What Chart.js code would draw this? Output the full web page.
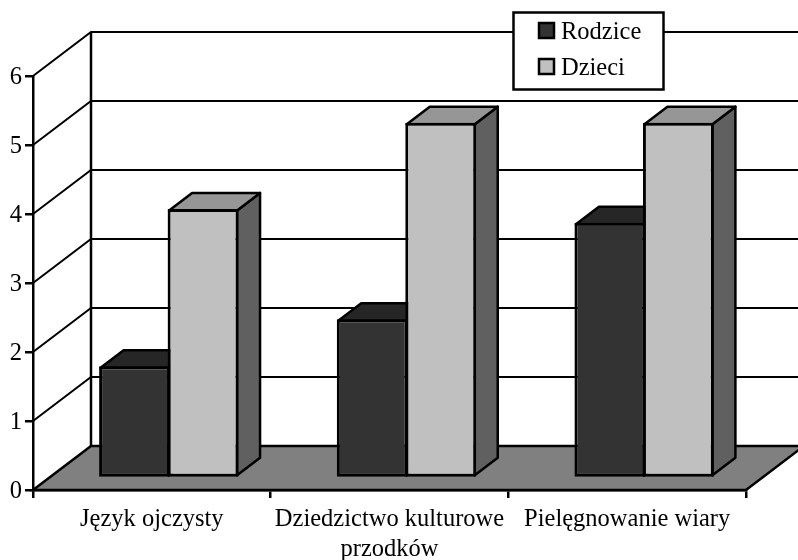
<!DOCTYPE html>
<html>
<head>
<meta charset="utf-8">
<style>
  html, body { margin: 0; padding: 0; background: #fff; }
  canvas { display: block; }
</style>
<script src="https://cdn.jsdelivr.net/npm/chart.js@4/dist/chart.umd.min.js"></script>
</head>
<body>
<canvas id="chart" width="798" height="560"></canvas>
<script>
const categories = ["Język ojczysty", ["Dziedzictwo kulturowe", "przodków"], "Pielęgnowanie wiary"];
const seriesNames = ["Rodzice", "Dzieci"];
const rodzice = [1.62, 2.3, 3.7];
const dzieci = [3.9, 5.15, 5.15];
const yTicks = [0, 1, 2, 3, 4, 5, 6];

const FONT = '"Liberation Serif", "Times New Roman", serif';

// depth of the fake 3D box: walls, and where bars stand on the floor
const WALL_DX = 58, WALL_DY = -44;
const BAR_DX = 17, BAR_DY = -12;
const FACE_DX = 23, FACE_DY = -17.5;

const fillColors = ["#333333", "#c0c0c0"];
const topColors = ["#262626", "#969696"];
const sideColors = ["#1a1a1a", "#606060"];

function poly(ctx, pts, fill) {
  ctx.beginPath();
  pts.forEach((p, i) => i ? ctx.lineTo(p[0], p[1]) : ctx.moveTo(p[0], p[1]));
  ctx.closePath();
  if (fill) {
    ctx.fillStyle = fill;
    ctx.fill();
  }
  ctx.stroke();
}

const box3d = {
  id: "box3d",
  // floor, back wall and the gridlines going round the corner
  beforeDraw(chart) {
    const { ctx, chartArea: a, scales } = chart;
    const y0 = scales.y.getPixelForValue(0);
    ctx.save();
    ctx.strokeStyle = "#000";
    ctx.lineWidth = 2;
    yTicks.forEach((t) => {
      if (t === 0) return;
      const y = scales.y.getPixelForValue(t);
      ctx.beginPath();
      ctx.moveTo(a.left, y);
      ctx.lineTo(a.left + WALL_DX, y + WALL_DY);
      ctx.lineTo(a.right + WALL_DX, y + WALL_DY);
      ctx.stroke();
    });
    ctx.lineWidth = 2.5;
    ctx.beginPath();
    ctx.moveTo(a.left + WALL_DX, a.top + WALL_DY);
    ctx.lineTo(a.left + WALL_DX, y0 + WALL_DY);
    ctx.stroke();
    poly(ctx, [
      [a.left, y0],
      [a.left + WALL_DX, y0 + WALL_DY],
      [a.right + WALL_DX, y0 + WALL_DY],
      [a.right, y0]
    ], "#808080");
    ctx.restore();
  },
  // Rodzice has to go down first so Dzieci covers its side face,
  // the default draw order is the other way round
  beforeDatasetsDraw(chart) {
    const { ctx } = chart;
    [0, 1].forEach((i) => {
      const meta = chart.getDatasetMeta(i);
      ctx.save();
      ctx.translate(BAR_DX, BAR_DY);
      ctx.strokeStyle = "#000";
      ctx.lineWidth = 2.5;
      ctx.lineJoin = "round";
      meta.data.forEach((bar) => {
        const l = bar.x - bar.width / 2 + 1.5;
        const r = bar.x + bar.width / 2 - 1.5;
        const t = bar.y + 1.5;
        const b = bar.base - 1.5;
        poly(ctx, [[r, t], [r + FACE_DX, t + FACE_DY], [r + FACE_DX, b + FACE_DY], [r, b]], sideColors[i]);
        poly(ctx, [[l, t], [l + FACE_DX, t + FACE_DY], [r + FACE_DX, t + FACE_DY], [r, t]], topColors[i]);
      });
      meta.controller.draw();
      ctx.restore();
    });
    return false;
  },
  // legend box sits over the top gridline
  afterDraw(chart) {
    const { ctx } = chart;
    ctx.save();
    ctx.strokeStyle = "#000";
    ctx.lineWidth = 2.5;
    ctx.fillStyle = "#fff";
    ctx.fillRect(513.5, 12.5, 150, 77);
    ctx.strokeRect(513.5, 12.5, 150, 77);
    ctx.font = "24.5px " + FONT;
    ctx.textBaseline = "middle";
    chart.data.datasets.forEach((ds, i) => {
      const y = 22 + i * 36;
      ctx.fillStyle = ds.backgroundColor;
      ctx.fillRect(539, y + 1, 15, 15);
      ctx.strokeRect(539, y + 1, 15, 15);
      ctx.fillStyle = "#000";
      ctx.fillText(ds.label, 561, y + 11);
    });
    ctx.restore();
  }
};

new Chart(document.getElementById("chart"), {
  type: "bar",
  data: {
    labels: categories,
    datasets: [
      { label: seriesNames[0], data: rodzice, backgroundColor: fillColors[0] },
      { label: seriesNames[1], data: dzieci, backgroundColor: fillColors[1] }
    ]
  },
  options: {
    responsive: false,
    animation: false,
    layout: { padding: { top: 76, right: 52, left: 0, bottom: 0 } },
    datasets: {
      bar: {
        // just over 1 so neighbouring bars share one border
        barPercentage: 1.036,
        categoryPercentage: 0.5764,
        borderColor: "#000",
        borderWidth: 3,
        borderSkipped: false
      }
    },
    plugins: { legend: { display: false }, tooltip: { enabled: false } },
    scales: {
      x: {
        afterFit(scale) { scale.height = 70; },
        grid: { drawOnChartArea: false, color: "#000", lineWidth: 2.5, tickLength: 8 },
        border: { color: "#000", width: 2.5 },
        ticks: {
          autoSkip: false,
          maxRotation: 0,
          padding: 7,
          color: "#000",
          font: { family: FONT, size: 24.5 }
        }
      },
      y: {
        min: 0,
        max: 6,
        afterFit(scale) { scale.width = 33; },
        afterBuildTicks(scale) { scale.ticks = yTicks.map((v) => ({ value: v })); },
        grid: { drawOnChartArea: false, color: "#000", lineWidth: 2.5, tickLength: 8 },
        border: { color: "#000", width: 2.5 },
        ticks: {
          padding: 3,
          labelOffset: 2,
          color: "#000",
          font: { family: FONT, size: 24.5 }
        }
      }
    }
  },
  plugins: [box3d]
});
</script>
</body>
</html>
